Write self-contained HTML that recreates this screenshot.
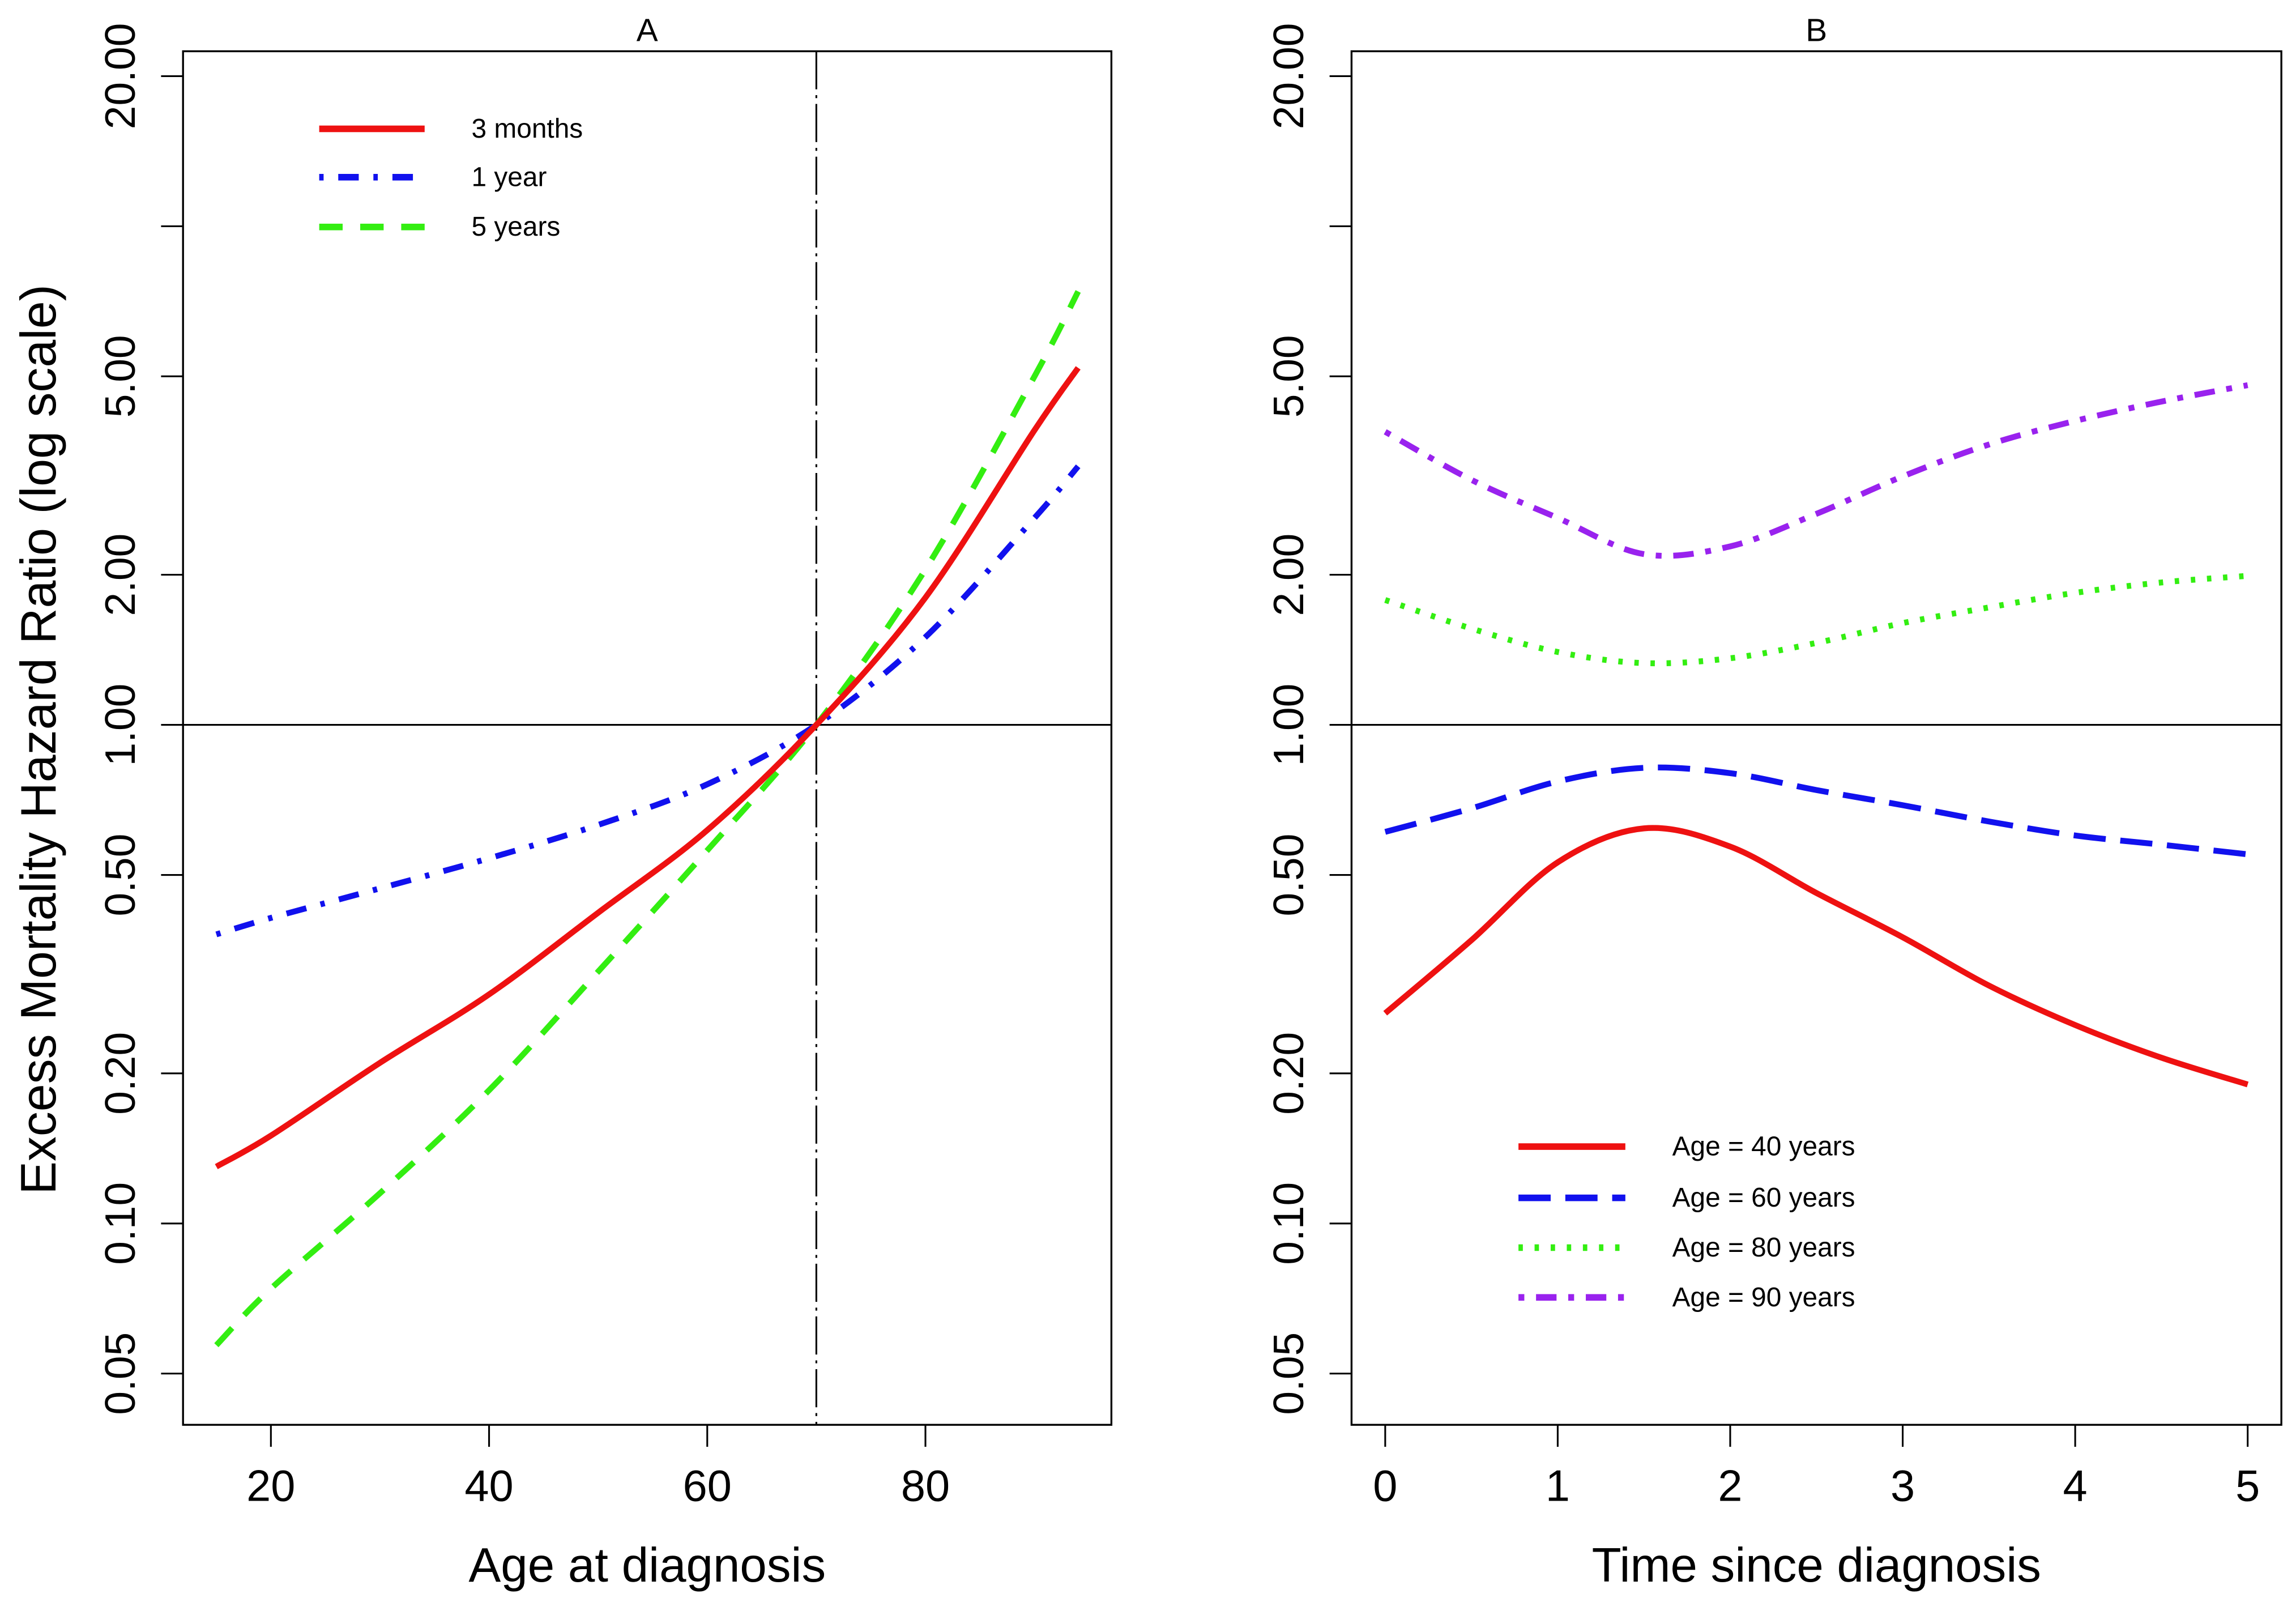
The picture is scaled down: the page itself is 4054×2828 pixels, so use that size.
<!DOCTYPE html>
<html><head><meta charset="utf-8"><style>
html,body{margin:0;padding:0;background:#fff;}
svg{display:block;font-family:"Liberation Sans",Arial,sans-serif;}
</style></head><body>
<svg id="chart" width="4054" height="2828" viewBox="0 0 1568 1094" preserveAspectRatio="none" xmlns="http://www.w3.org/2000/svg">
<g id="root"></g>
</svg>
<script>
// Panel A data
const agesA = [15, 20, 30, 40, 50, 60, 70, 80, 90, 94];
const red3m = [0.13, 0.15, 0.21, 0.288, 0.42, 0.615, 1.0, 1.8, 3.9, 5.2];
const blue1y = [0.38, 0.41, 0.47, 0.54, 0.63, 0.76, 1.0, 1.5, 2.6, 3.3];
const green5y = [0.057, 0.074, 0.115, 0.185, 0.32, 0.56, 1.0, 2.05, 5.0, 7.4];
// Panel B data
const timesB = [0, 0.5, 1, 1.5, 2, 2.5, 3, 3.5, 4, 4.5, 5];
const age40 = [0.264, 0.37, 0.53, 0.62, 0.57, 0.46, 0.375, 0.30, 0.25, 0.215, 0.19];
const age60 = [0.61, 0.68, 0.77, 0.82, 0.80, 0.74, 0.69, 0.64, 0.60, 0.575, 0.55];
const age80 = [1.78, 1.56, 1.40, 1.33, 1.36, 1.46, 1.6, 1.72, 1.84, 1.93, 1.99];
const age90 = [3.87, 3.1, 2.6, 2.2, 2.28, 2.65, 3.15, 3.65, 4.07, 4.45, 4.8];
const yTickVals = [0.05, 0.10, 0.20, 0.50, 1.00, 2.00, 5.00, 10, 20.00];
const yTickLabels = ["0.05", "0.10", "0.20", "0.50", "1.00", "2.00", "5.00", "", "20.00"];
const xTicksA = [20, 40, 60, 80];
const xTicksB = [0, 1, 2, 3, 4, 5];

const NS = "http://www.w3.org/2000/svg";
const root = document.getElementById('root');
function mk(tag, attrs, parent, text){
  const e = document.createElementNS(NS, tag);
  for (const k in attrs) e.setAttribute(k, attrs[k]);
  if (text !== undefined) e.textContent = text;
  (parent || root).appendChild(e);
  return e;
}
const TOP = 35, BOT = 973;
function yS(v){ return 495 - Math.log10(v) * 340.5; }
function xA(v){ return 185 + (v - 20) * (632 - 185) / 60; }
function xB(v){ return 946 + v * (1535 - 946) / 5; }

function smoothPath(pts){
  let d = "M" + pts[0][0] + "," + pts[0][1];
  for (let i = 0; i < pts.length - 1; i++){
    const p0 = pts[Math.max(0, i-1)], p1 = pts[i], p2 = pts[i+1], p3 = pts[Math.min(pts.length-1, i+2)];
    const c1x = p1[0] + (p2[0]-p0[0])/6, c1y = p1[1] + (p2[1]-p0[1])/6;
    const c2x = p2[0] - (p3[0]-p1[0])/6, c2y = p2[1] - (p3[1]-p1[1])/6;
    d += " C" + c1x + "," + c1y + " " + c2x + "," + c2y + " " + p2[0] + "," + p2[1];
  }
  return d;
}

function panel(name, L, R, xs, xTicks, xLabel, title){
  const g = mk('g', {});
  
  
  const box = mk('rect', {x:L, y:TOP, width:R-L, height:BOT-TOP, fill:'none', stroke:'#000', 'stroke-width':1.3}, g);
  
  
  const ya = mk('g', {}, g);
  
  
  yTickVals.forEach((v, i) => {
    const y = yS(v);
    mk('line', {x1:L-15, x2:L, y1:y, y2:y, stroke:'#000', 'stroke-width':1.2}, ya);
    if (yTickLabels[i]){
      const t = mk('text', {x:0, y:0, 'font-size':29, 'text-anchor':'middle', transform:'translate(' + (L-33) + ',' + y + ') rotate(-90)'}, ya, yTickLabels[i]);
      
      
    }
  });
  const xa = mk('g', {}, g);
  
  
  xTicks.forEach(v => {
    const x = xs(v);
    mk('line', {x1:x, x2:x, y1:BOT, y2:BOT+15, stroke:'#000', 'stroke-width':1.2}, xa);
    const t = mk('text', {x:x, y:1025, 'font-size':30, 'text-anchor':'middle'}, xa, String(v));
    
    
  });
  const xt = mk('text', {x:(L+R)/2, y:1080, 'font-size':33, 'text-anchor':'middle'}, g, xLabel);
  
  
  const tt = mk('text', {x:(L+R)/2, y:28, 'font-size':22, 'text-anchor':'middle'}, g, title);
  
  
  const h = mk('line', {x1:L, x2:R, y1:yS(1), y2:yS(1), stroke:'#000', 'stroke-width':1.2}, g);
  
  
  return g;
}

function series(g, name, xsArr, ys, xs, color, dash){
  const pts = xsArr.map((v, i) => [xs(v), yS(ys[i])]);
  const p = mk('path', {d:smoothPath(pts), fill:'none', stroke:color, 'stroke-width':4, 'stroke-dasharray':dash || 'none', 'stroke-linecap':'butt'}, g);
  
  
}
function legendEntry(g, name, x1, x2, y, tx, color, dash, label){
  const lg = mk('g', {}, g);
  
  
  mk('line', {x1:x1, x2:x2, y1:y, y2:y, stroke:color, 'stroke-width':4.5, 'stroke-dasharray':dash || 'none'}, lg);
  mk('text', {x:tx, y:y+6, 'font-size':18.5}, lg, label);
}

const gA = panel('panel-a', 125, 759, xA, xTicksA, 'Age at diagnosis', 'A');
const vl = mk('line', {x1:xA(70), x2:xA(70), y1:TOP, y2:BOT, stroke:'#000', 'stroke-width':1.2, 'stroke-dasharray':'26,4,2,4'}, gA);


series(gA, 'line-5-years', agesA, green5y, xA, '#33ee11', '16,12');
series(gA, 'line-1-year', agesA, blue1y, xA, '#1111ee', '3,10,14,10');
series(gA, 'line-3-months', agesA, red3m, xA, '#ee1111');
legendEntry(gA, 'legend-3-months', 218, 290, 88, 322, '#ee1111', null, '3 months');
legendEntry(gA, 'legend-1-year', 218, 290, 121, 322, '#1111ee', '3,10,14,10', '1 year');
legendEntry(gA, 'legend-5-years', 218, 290, 155, 322, '#33ee11', '16,12', '5 years');

const gB = panel('panel-b', 923, 1558, xB, xTicksB, 'Time since diagnosis', 'B');
series(gB, 'line-age-40', timesB, age40, xB, '#ee1111');
series(gB, 'line-age-60', timesB, age60, xB, '#1111ee', '22,10');
series(gB, 'line-age-80', timesB, age80, xB, '#33ee11', '3,8');
series(gB, 'line-age-90', timesB, age90, xB, '#9922ee', '4,8,14,8');
legendEntry(gB, 'legend-age-40', 1037, 1110, 783, 1142, '#ee1111', null, 'Age = 40 years');
legendEntry(gB, 'legend-age-60', 1037, 1110, 818, 1142, '#1111ee', '22,10', 'Age = 60 years');
legendEntry(gB, 'legend-age-80', 1037, 1110, 852, 1142, '#33ee11', '3,8', 'Age = 80 years');
legendEntry(gB, 'legend-age-90', 1037, 1110, 886, 1142, '#9922ee', '4,8,14,8', 'Age = 90 years');

const yt = mk('text', {x:0, y:0, 'font-size':34, 'text-anchor':'middle', transform:'translate(38,505) rotate(-90)'}, root, 'Excess Mortality Hazard Ratio (log scale)');


</script>
</body></html>
